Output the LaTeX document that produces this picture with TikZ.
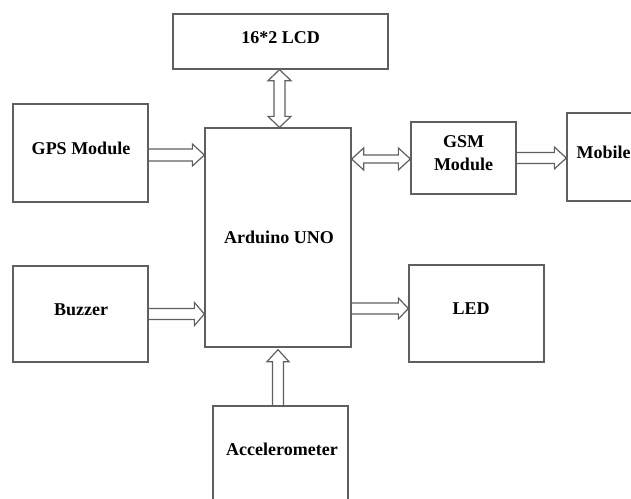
\documentclass[tikz,border=0pt]{standalone}
\usepackage{fontspec}
\setmainfont{Liberation Serif}
\usetikzlibrary{calc}
\definecolor{ln}{RGB}{95,95,95}
\tikzset{
  box/.style={draw=ln,line width=1.3pt,rectangle,inner sep=0pt},
  txt/.style={font=\fontsize{18}{23}\selectfont\bfseries,text=black,inner sep=0pt},
  blk/.style={draw=ln,line width=1.2pt,line join=miter}
}
% right arrow: #1 start, #2 end, #3 shaft half, #4 head half, #5 head length
\newcommand{\rarr}[5]{\draw[blk] let \p1=(#1), \p2=(#2) in
 (\x1,{\y1+#3pt}) -- ({\x2-#5pt},{\y1+#3pt}) -- ({\x2-#5pt},{\y1+#4pt}) -- (\x2,\y1)
 -- ({\x2-#5pt},{\y1-#4pt}) -- ({\x2-#5pt},{\y1-#3pt}) -- (\x1,{\y1-#3pt});}
% horizontal double arrow
\newcommand{\hdarr}[5]{\draw[blk] let \p1=(#1), \p2=(#2) in
 (\x1,\y1) -- ({\x1+#5pt},{\y1+#4pt}) -- ({\x1+#5pt},{\y1+#3pt}) -- ({\x2-#5pt},{\y1+#3pt})
 -- ({\x2-#5pt},{\y1+#4pt}) -- (\x2,\y1) -- ({\x2-#5pt},{\y1-#4pt}) -- ({\x2-#5pt},{\y1-#3pt})
 -- ({\x1+#5pt},{\y1-#3pt}) -- ({\x1+#5pt},{\y1-#4pt}) -- cycle;}
% up arrow: #1 lower start, #2 upper end
\newcommand{\uarr}[5]{\draw[blk] let \p1=(#1), \p2=(#2) in
 ({\x1-#3pt},\y1) -- ({\x1-#3pt},{\y2-#5pt}) -- ({\x1-#4pt},{\y2-#5pt}) -- (\x1,\y2)
 -- ({\x1+#4pt},{\y2-#5pt}) -- ({\x1+#3pt},{\y2-#5pt}) -- ({\x1+#3pt},\y1);}
% vertical double arrow: #1 upper, #2 lower
\newcommand{\vdarr}[5]{\draw[blk] let \p1=(#1), \p2=(#2) in
 (\x1,\y1) -- ({\x1+#4pt},{\y1-#5pt}) -- ({\x1+#3pt},{\y1-#5pt}) -- ({\x1+#3pt},{\y2+#5pt})
 -- ({\x1+#4pt},{\y2+#5pt}) -- (\x1,\y2) -- ({\x1-#4pt},{\y2+#5pt}) -- ({\x1-#3pt},{\y2+#5pt})
 -- ({\x1-#3pt},{\y1-#5pt}) -- ({\x1-#4pt},{\y1-#5pt}) -- cycle;}
\begin{document}
\begin{tikzpicture}[x=1pt,y=-1pt]
\useasboundingbox (0,0) rectangle (631,498);
\clip (0,0) rectangle (631,498);
% boxes
\node[box,minimum width=215pt,minimum height=55pt] (lcd) at (280.5,41.5) {};
\node[box,minimum width=135pt,minimum height=98pt] (gps) at (80.5,153) {};
\node[box,minimum width=146pt,minimum height=219pt] (ard) at (278,237.5) {};
\node[box,minimum width=105pt,minimum height=72pt] (gsm) at (463.5,158) {};
\node[box,minimum width=113pt,minimum height=88pt] (mob) at (623.5,157) {};
\node[box,minimum width=135pt,minimum height=96pt] (buz) at (80.5,314) {};
\node[box,minimum width=135pt,minimum height=97pt] (led) at (476.5,313.5) {};
\node[box,minimum width=135pt,minimum height=114pt] (acc) at (280.5,463) {};
% texts
\node[txt,anchor=base] (lcdt) at (280.5,43) {16*2 LCD};
\node[txt,anchor=base] (gpst) at (81,154) {GPS Module};
\node[txt,anchor=base] (ardt) at (279,243) {Arduino UNO};
\node[txt,align=center] (gsmt) at (463.5,153.5) {GSM\\Module};
\node[txt,anchor=base west] (mobt) at (576.5,158) {Mobile};
\node[txt,anchor=base] (buzt) at (81,315) {Buzzer};
\node[txt,anchor=base] (ledt) at (471,314) {LED};
\node[txt,anchor=base] (acct) at (282,455) {Accelerometer};
% connectors
\vdarr{[xshift=-1pt]lcd.south}{[xshift=-1pt]lcd.south |- ard.north}{5.5}{11.5}{11}
\rarr{[yshift=-2pt]gps.east}{[yshift=-2pt]gps.east -| ard.west}{6}{11}{12}
\hdarr{[yshift=-1pt]ard.east |- gsm.west}{[yshift=-1pt]gsm.west}{4}{11}{12}
\rarr{gsm.east}{gsm.east -| mob.west}{5.5}{11}{12}
\rarr{buz.east}{buz.east -| ard.west}{5.5}{11.5}{10}
\rarr{[yshift=5pt]ard.east |- led.west}{[yshift=5pt]led.west}{5.5}{10.5}{10}
\uarr{ard.south |- acc.north}{[yshift=-2pt]ard.south}{5.5}{11}{12}
\end{tikzpicture}
\end{document}
